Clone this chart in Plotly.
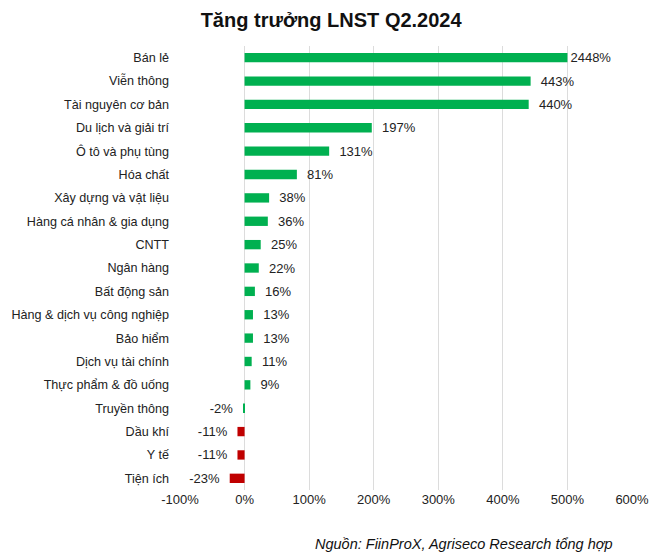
import plotly.graph_objects as go

categories = ["Bán lẻ", "Viễn thông", "Tài nguyên cơ bản", "Du lịch và giải trí",
              "Ô tô và phụ tùng", "Hóa chất", "Xây dựng và vật liệu",
              "Hàng cá nhân & gia dụng", "CNTT", "Ngân hàng", "Bất động sản",
              "Hàng & dịch vụ công nghiệp", "Bảo hiểm", "Dịch vụ tài chính",
              "Thực phẩm & đồ uống", "Truyền thông", "Dầu khí", "Y tế", "Tiện ích"]
growth = [2448, 443, 440, 197, 131, 81, 38, 36, 25, 22, 16, 13, 13, 11, 9, -2, -11, -11, -23]
axis_cap = 500  # Bán lẻ bar is drawn truncated at the 500% gridline in the source
tick_vals = [-100, 0, 100, 200, 300, 400, 500, 600]
tick_text = ["-100%", "0%", "100%", "200%", "300%", "400%", "500%", "600%"]

GREEN = "#00B050"
RED = "#C00000"
FONT = "Liberation Sans, Arial, sans-serif"
PAD = "\u00a0\u00a0"

shown = [min(v, axis_cap) for v in growth]
colors = [GREEN if v > -5 else RED for v in growth]
labels = []
for v in growth:
    if v > axis_cap:
        labels.append(f"{v}%")
    elif v >= 0:
        labels.append(f"{PAD}{v}%")
    else:
        labels.append(f"{v}%{PAD}")

fig = go.Figure(go.Bar(
    y=categories, x=shown, orientation="h",
    marker=dict(color=colors, line=dict(width=0)),
    width=0.4,
    text=labels, textposition="outside", cliponaxis=False,
    constraintext="none",
    textfont=dict(family=FONT, size=13, color="#222"),
))

fig.update_layout(
    width=669, height=557,
    margin=dict(l=172, r=45, t=38, b=75, autoexpand=False),
    paper_bgcolor="white", plot_bgcolor="white",
    showlegend=False,
    title=dict(text="<b>Tăng trưởng LNST Q2.2024</b>", x=0.483, xanchor="center",
               y=0.979, yanchor="middle",
               font=dict(family=FONT, size=20, color="#111")),
    font=dict(family=FONT, size=13, color="#222"),
    annotations=[dict(text="<i>Nguồn: FiinProX, Agriseco Research tổng hợp</i>",
                      xref="paper", yref="paper", x=0.962, y=-0.099,
                      xanchor="right", yanchor="top", showarrow=False,
                      font=dict(family=FONT, size=14.5, color="#111"))],
)
fig.update_xaxes(range=[-100, 600], tickvals=tick_vals, ticktext=tick_text,
                 showgrid=True, gridcolor="#dcdcdc", gridwidth=1,
                 zeroline=False, showline=False, ticks="", automargin=False,
                 tickfont=dict(size=13, color="#222"))
fig.update_yaxes(autorange="reversed", showgrid=False, zeroline=False,
                 showline=False, ticks="", ticklabelstandoff=10, automargin=False,
                 tickfont=dict(size=12.6, color="#222"))

fig.write_html("out.html")
